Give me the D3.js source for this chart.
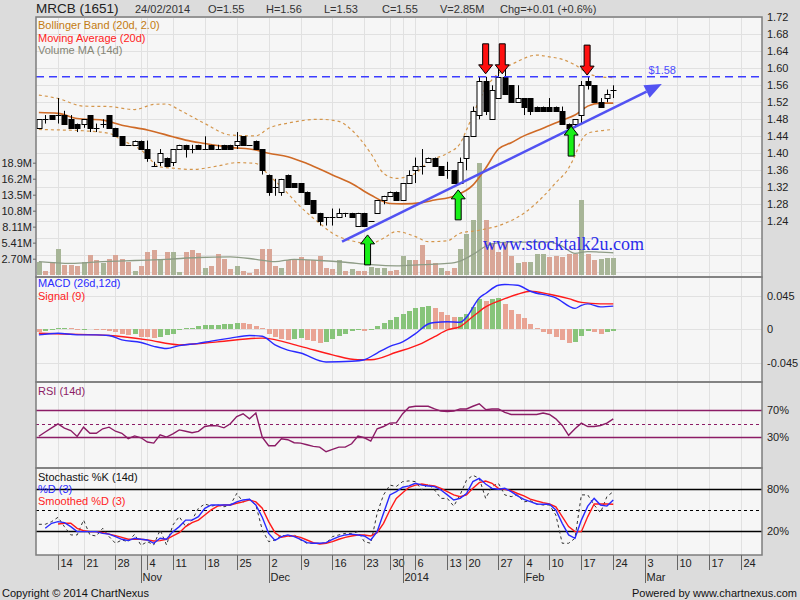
<!DOCTYPE html>
<html>
<head>
<meta charset="utf-8">
<script src="https://cdn.jsdelivr.net/npm/d3@7"></script>
<style>
body { margin: 0; background: #dcdcdc; }
</style>
</head>
<body>
<script>
//=================================================
// data (index 0 = 9 Oct 2013, 90 = 24 Feb 2014)
//=================================================
var openP = [1.46, 1.48, 1.49, 1.49, 1.49, 1.48, 1.47, 1.47, 1.49, 1.46,
    1.47, 1.49, 1.46, 1.44, 1.42, 1.42, 1.43, 1.41, 1.37, 1.38,
    1.39, 1.38, 1.41, 1.42, 1.41, 1.42, 1.41, 1.42, 1.41, 1.42,
    1.42, 1.42, 1.44, 1.42, 1.43, 1.41, 1.35, 1.32, 1.31, 1.35,
    1.33, 1.33, 1.31, 1.29, 1.26, 1.25, 1.25, 1.25, 1.26, 1.26,
    1.23, 1.26, 1.24, 1.26, 1.29, 1.30, 1.31, 1.29, 1.33, 1.36,
    1.37, 1.38, 1.39, 1.37, 1.36, 1.36, 1.33, 1.39, 1.44, 1.49,
    1.57, 1.48, 1.53, 1.58, 1.56, 1.52, 1.53, 1.53, 1.51, 1.51,
    1.51, 1.51, 1.50, 1.47, 1.47, 1.49, 1.57, 1.56, 1.52, 1.53,
    1.55];
var highP = [1.48, 1.49, 1.49, 1.53, 1.50, 1.49, 1.47, 1.48, 1.49, 1.47,
    1.48, 1.49, 1.46, 1.44, 1.42, 1.43, 1.43, 1.43, 1.38, 1.41,
    1.39, 1.41, 1.42, 1.42, 1.42, 1.42, 1.44, 1.42, 1.42, 1.42,
    1.42, 1.45, 1.44, 1.42, 1.43, 1.41, 1.35, 1.34, 1.34, 1.35,
    1.33, 1.33, 1.31, 1.29, 1.26, 1.25, 1.27, 1.27, 1.26, 1.26,
    1.26, 1.26, 1.24, 1.29, 1.30, 1.31, 1.31, 1.33, 1.36, 1.39,
    1.41, 1.39, 1.39, 1.37, 1.38, 1.36, 1.39, 1.44, 1.51, 1.58,
    1.58, 1.56, 1.60, 1.60, 1.56, 1.56, 1.53, 1.53, 1.51, 1.51,
    1.53, 1.51, 1.51, 1.47, 1.48, 1.57, 1.58, 1.56, 1.53, 1.55,
    1.56];
var lowP = [1.46, 1.47, 1.48, 1.47, 1.47, 1.46, 1.45, 1.46, 1.45, 1.45,
    1.46, 1.46, 1.44, 1.42, 1.42, 1.42, 1.41, 1.38, 1.37, 1.37,
    1.37, 1.37, 1.41, 1.39, 1.40, 1.41, 1.41, 1.41, 1.41, 1.41,
    1.41, 1.41, 1.42, 1.42, 1.41, 1.35, 1.30, 1.30, 1.30, 1.32,
    1.32, 1.31, 1.28, 1.26, 1.23, 1.23, 1.23, 1.25, 1.25, 1.25,
    1.23, 1.23, 1.24, 1.26, 1.28, 1.30, 1.29, 1.29, 1.33, 1.33,
    1.35, 1.38, 1.37, 1.35, 1.34, 1.33, 1.33, 1.36, 1.44, 1.48,
    1.49, 1.48, 1.53, 1.54, 1.52, 1.52, 1.49, 1.49, 1.50, 1.50,
    1.50, 1.50, 1.47, 1.45, 1.46, 1.47, 1.55, 1.52, 1.51, 1.52,
    1.53];
var closeP = [1.48, 1.48, 1.48, 1.49, 1.47, 1.46, 1.46, 1.48, 1.46, 1.46,
    1.47, 1.46, 1.44, 1.42, 1.42, 1.43, 1.41, 1.39, 1.37, 1.40,
    1.37, 1.41, 1.42, 1.41, 1.41, 1.41, 1.41, 1.41, 1.41, 1.41,
    1.41, 1.43, 1.42, 1.42, 1.41, 1.36, 1.31, 1.32, 1.34, 1.32,
    1.32, 1.31, 1.28, 1.26, 1.24, 1.25, 1.25, 1.26, 1.26, 1.25,
    1.26, 1.23, 1.24, 1.29, 1.30, 1.31, 1.29, 1.33, 1.35, 1.37,
    1.37, 1.39, 1.37, 1.35, 1.36, 1.33, 1.38, 1.44, 1.50, 1.57,
    1.50, 1.55, 1.58, 1.54, 1.52, 1.53, 1.51, 1.50, 1.50, 1.50,
    1.50, 1.50, 1.47, 1.46, 1.48, 1.56, 1.56, 1.52, 1.51, 1.54,
    1.55];

// volume in millions, and whether the bar is an up (u) or down (d) day
var volume = [2.1, 0.7, 2.2, 4.4, 1.7, 1.7, 1.5, 2.2, 3.4, 2.5,
    1.9, 2.7, 3.3, 2.6, 2.2, 0.7, 1.4, 3.9, 4.1, 2.6,
    3.8, 3.8, 0.4, 3.8, 4.2, 3.7, 1.1, 1.4, 3.5, 2.7,
    1.0, 1.4, 0.6, 0.3, 1.0, 4.3, 4.3, 1.5, 1.2, 2.5,
    2.5, 3.0, 2.5, 2.5, 3.1, 1.2, 1.0, 2.5, 0.6, 1.0,
    0.7, 0.6, 1.3, 1.2, 1.2, 0.6, 0.8, 3.1, 2.5, 2.5,
    5.0, 2.5, 1.9, 1.2, 0.7, 1.1, 4.4, 6.9, 9.3, 18.9,
    9.2, 5.3, 3.9, 5.3, 3.2, 2.0, 2.2, 2.2, 3.5, 3.5,
    3.0, 3.1, 3.0, 3.5, 3.5, 12.6, 3.5, 2.4, 2.6, 2.9,
    2.85];
var volDir = ["uddudddudd", "uddddudddu", "duuddduddd", "duddddddud", "dddddddudu",
    "dduuudduud", "dddudduuuu", "ddddduduuu", "dddddudduu", "u"].join("").split("");

// indicator lines, sampled at candle indices
var maIdx = [0, 3, 6, 10, 13, 17, 21, 23, 26, 30, 34, 36, 39, 42, 46, 49, 52, 55, 57, 60, 62, 65, 68, 70, 72, 74, 76, 79, 82, 84, 86, 88, 90];
var maVal = [1.496, 1.494, 1.482, 1.478, 1.466, 1.455, 1.439, 1.431, 1.423, 1.414, 1.408, 1.400, 1.392, 1.376, 1.349, 1.329, 1.302, 1.282, 1.281, 1.284, 1.290, 1.299, 1.325, 1.365, 1.410, 1.425, 1.441, 1.459, 1.478, 1.490, 1.511, 1.518, 1.518];
var bbUIdx = [0, 3, 7, 11, 15, 18, 20, 22, 26, 30, 34, 36, 39, 44, 47, 49, 52, 54, 56, 59, 61, 64, 66, 67, 68, 69, 70, 72, 75, 78, 80, 82, 84, 86, 88, 90];
var bbUVal = [1.537, 1.529, 1.511, 1.510, 1.503, 1.515, 1.516, 1.502, 1.470, 1.443, 1.441, 1.459, 1.471, 1.480, 1.475, 1.455, 1.400, 1.353, 1.341, 1.353, 1.380, 1.400, 1.423, 1.455, 1.490, 1.525, 1.553, 1.588, 1.616, 1.631, 1.627, 1.621, 1.608, 1.588, 1.580, 1.578];
var bbLIdx = [0, 3, 7, 11, 13, 16, 19, 21, 24, 28, 31, 34, 36, 38, 41, 44, 46, 49, 52, 54, 56, 59, 61, 64, 66, 69, 73, 76, 79, 81, 83, 84, 85, 86, 88, 90];
var bbLVal = [1.456, 1.455, 1.453, 1.447, 1.431, 1.408, 1.368, 1.365, 1.362, 1.370, 1.378, 1.376, 1.349, 1.321, 1.274, 1.235, 1.212, 1.194, 1.188, 1.200, 1.216, 1.204, 1.192, 1.194, 1.212, 1.219, 1.235, 1.259, 1.298, 1.331, 1.365, 1.395, 1.430, 1.447, 1.453, 1.456];
var vmaIdx = [0, 5, 10, 15, 20, 25, 30, 34, 37, 40, 44, 48, 52, 56, 60, 64, 66, 68, 70, 72, 74, 76, 78, 80, 82, 84, 86, 88, 90];
var vmaVal = [2.2, 1.9, 2.2, 2.4, 2.6, 2.9, 3.0, 2.6, 2.2, 2.6, 2.4, 2.1, 1.7, 1.5, 1.7, 1.9, 2.3, 3.4, 4.8, 5.4, 5.5, 5.5, 5.5, 5.5, 4.8, 3.6, 3.9, 3.8, 3.7];

var macdIdx = [0, 3, 6, 9, 11, 13, 16, 18, 20, 22, 25, 27, 30, 33, 35, 37, 39, 41, 45, 49, 51, 53, 55, 57, 59, 61, 62, 64, 66, 67, 69, 70, 72, 73, 75, 77, 81, 84, 85, 86, 88, 90];
var macdVal = [-0.0076, -0.0054, -0.0076, -0.0076, -0.0085, -0.0143, -0.0179, -0.023, -0.026, -0.022, -0.019, -0.016, -0.012, -0.0085, -0.0095, -0.021, -0.028, -0.032, -0.044, -0.043, -0.041, -0.032, -0.023, -0.017, -0.006, 0.007, 0.009, 0.010, 0.0094, 0.016, 0.042, 0.048, 0.059, 0.060, 0.059, 0.051, 0.042, 0.028, 0.032, 0.034, 0.030, 0.031];
var sigIdx = [0, 4, 11, 17, 22, 28, 35, 41, 46, 50, 52, 56, 60, 62, 64, 66, 68, 70, 73, 75, 77, 80, 83, 85, 88, 90];
var sigVal = [-0.0054, -0.0065, -0.0085, -0.0143, -0.021, -0.017, -0.012, -0.023, -0.0345, -0.041, -0.041, -0.031, -0.019, -0.010, -0.001, 0.0036, 0.017, 0.030, 0.041, 0.047, 0.051, 0.047, 0.041, 0.036, 0.034, 0.034];
var macdHist = [-0.004, -0.002, -0.001, 0.001, 0.002, 0.001, -0.001, -0.0005, 0.0, -0.001,
    -0.0015, -0.002, -0.004, -0.007, -0.008, -0.007, -0.010, -0.011, -0.012, -0.010,
    -0.008, -0.006, -0.001, 0.001, 0.002, 0.004, 0.005, 0.006, 0.0062, 0.0065,
    0.007, 0.0085, 0.008, 0.007, 0.004, 0.001, -0.006, -0.011, -0.013, -0.014,
    -0.013, -0.012, -0.014, -0.016, -0.018, -0.017, -0.013, -0.009, -0.006, -0.003,
    -0.001, -0.002, -0.001, 0.004, 0.008, 0.012, 0.016, 0.020, 0.025, 0.029,
    0.030, 0.031, 0.028, 0.023, 0.019, 0.016, 0.0165, 0.020, 0.030, 0.040,
    0.038, 0.041, 0.042, 0.034, 0.026, 0.020, 0.015, 0.007, 0.001, -0.004,
    -0.007, -0.010, -0.014, -0.018, -0.0175, -0.009, -0.003, -0.004, -0.007, -0.004,
    -0.003];

var rsi = [31.5, 37.8, 44, 50, 43.6, 40, 31.3, 45, 36, 36,
    42.6, 45, 39, 36, 28, 32, 29.3, 23, 21.4, 33.7,
    30.3, 35, 41, 39, 36.7, 38.7, 46, 47.5, 47, 44,
    50, 60.8, 64.8, 57.4, 66, 30.3, 17.5, 17.5, 27.8, 26.4,
    22, 21.4, 19, 16.5, 15.5, 8.6, 12, 15.5, 15.5, 20.4,
    31.8, 29.3, 24.4, 42.6, 46, 51, 51.5, 65, 74.6, 76,
    76, 76, 72, 68.7, 68, 68.7, 72, 72, 76, 79.6,
    71, 72, 72, 67, 63.8, 63.8, 63.8, 63.8, 63.8, 66,
    63.8, 57.4, 47.5, 33, 42.6, 51, 46, 46, 47.5, 51,
    57.4];

var stochK = [30, 30, 33.8, 40, 26.7, 14.8, 14.8, 36, 14.8, 13.3,
    24.3, 12.4, 2.9, 7.6, 5.2, 15.7, 0, 5.2, 0.5, 22,
    0.5, 29, 41, 26.7, 36, 52.9, 59, 56, 57.6, 55,
    57.6, 74, 62, 65.7, 57.6, 22, 5.2, 7.6, 14.8, 12.4,
    14.8, 7.6, 2.9, 2.9, 2.9, 2.9, 12.4, 14.8, 17, 17,
    19.5, 5.2, 2.9, 45.7, 72, 86, 84, 91, 92, 91,
    79, 87.6, 79, 67, 67, 56, 72, 93, 100, 95.7,
    67, 84, 88.6, 72, 69.5, 72, 62, 63.8, 59, 57.6,
    57.6, 43.3, 2.9, 2.9, 10, 72, 72, 57.6, 46.7, 69.5,
    76.7];
var stochD = [null, 24.3, 31.4, 33.8, 32.4, 26.7, 19.5, 19.5, 19.5, 19.5,
    17, 16, 12.4, 8.6, 6.7, 10, 8.6, 7.6, 2.9, 10,
    8.6, 19.5, 26.7, 36, 36, 41, 52.9, 57.6, 57.6, 57.6,
    57.6, 62, 64.8, 65.7, 57.6, 40, 17, 7, 12.4, 14.8,
    12.4, 8.6, 3.8, 2.9, 2.9, 3.8, 8.6, 12.4, 14.8, 16,
    14.8, 13.3, 7.6, 19.5, 45.7, 72, 76.7, 82.9, 84.8, 88.6,
    86, 84.8, 83.8, 79, 72, 64.8, 67, 74, 91, 95.7,
    87.6, 81.4, 80, 81.4, 76.7, 70.5, 65.7, 62.4, 59, 58.6,
    58.6, 50.5, 31.4, 14.8, 10, 36, 56, 67, 57.6, 56,
    64.8];
var stochSD = [null, null, null, 30.5, 31.4, 31.4, 24.3, 21, 19.5, 19.5,
    18, 16, 13.8, 11.4, 8.6, 8.6, 8.6, 7.6, 6.2, 6.7,
    8.6, 13.3, 18, 26.7, 32.4, 36, 43.3, 50.5, 56, 57.6,
    57.6, 60, 62, 64.8, 62, 52.9, 33.8, 18, 11.4, 13.3,
    13.3, 11.4, 7.6, 3.8, 1.9, 2.9, 5.2, 8.6, 11.4, 13.3,
    14.8, 14.8, 13.3, 18, 31.4, 50.5, 67, 75, 82.9, 86,
    87.6, 86, 84.8, 81.4, 76.7, 72, 69.5, 72, 81.4, 89.5,
    91.9, 88.6, 81.4, 80, 78, 74, 70.5, 66, 63.3, 61,
    59, 55, 41, 26.7, 19.5, 19.5, 41, 59, 59, 59,
    58.6];

// axis ticks (trading-day index) and labels
var weekIdx = [3, 7, 12, 17, 21, 26, 31, 36, 41, 46, 51, 55, 59, 64, 67, 72, 76, 80, 85, 90, 95, 100, 105, 110];
var weekLbl = ["14", "21", "28", "4", "11", "18", "25", "2", "9", "16", "23", "30", "6", "13", "20", "27", "4", "10", "17", "24", "3", "10", "17", "24"];
var monthIdx = [16, 36, 57, 76, 95];
var monthLbl = ["Nov", "Dec", "2014", "Feb", "Mar"];
var priceTicks = [1.24, 1.28, 1.32, 1.36, 1.40, 1.44, 1.48, 1.52, 1.56, 1.60, 1.64, 1.68, 1.72];
var volTicks = [2.70, 5.41, 8.11, 10.8, 13.5, 16.2, 18.9];
var volLbl = ["2.70M", "5.41M", "8.11M", "10.8M", "13.5M", "16.2M", "18.9M"];
var macdTicks = [-0.045, 0, 0.045];
var macdLbl = ["-0.045", "0", "0.045"];

// hand-drawn notes on the chart: [index, price]
var resistance = 1.58;
var trendFrom = [47.5, 1.192], trendTo = [97.6, 1.563];
var redArrows = [[70.0, 1.587], [72.6, 1.587], [85.9, 1.584]];
var greenArrows = [[51.5, 1.208], [65.7, 1.314], [83.4, 1.464]];
var watermarkAt = [69.6, 1.1725];

//=================================================
// layout
//=================================================
var W = 800, H = 600, L = 36, R = 762;
var panels = [[17, 277], [277, 382], [382, 468], [468, 555]];
var SANS = "'Liberation Sans', Arial, sans-serif";

var svg = d3.select("body").append("svg")
    .attr("width", W)
    .attr("height", H)
    .style("font-family", SANS);

svg.append("rect").attr("width", W).attr("height", H).attr("fill", "#dcdcdc");

var x = d3.scaleLinear().domain([-0.45, 113.3]).range([L, R]);
var yP = d3.scaleLinear().domain([1.24, 1.72]).range([221.3, 17.3]);
var yV = d3.scaleLinear().domain([0, 18.9]).range([274.7, 162.7]);
var yM = d3.scaleLinear().domain([-0.045, 0.045]).range([362.7, 295.7]);
var yR = d3.scaleLinear().domain([30, 70]).range([437.3, 410.3]);
var yS = d3.scaleLinear().domain([20, 80]).range([531.3, 489.3]);

var defs = svg.append("defs");
defs.append("clipPath").attr("id", "clipMain")
    .append("rect").attr("x", L).attr("y", panels[0][0]).attr("width", R - L).attr("height", panels[0][1] - panels[0][0]);

// panel backgrounds
svg.selectAll(".panelBg").data(panels).enter().append("rect")
    .attr("class", "panelBg")
    .attr("x", L).attr("y", function (d) { return d[0]; })
    .attr("width", R - L).attr("height", function (d) { return d[1] - d[0]; })
    .attr("fill", "#f6f6f6");

//=================================================
// grid
//=================================================
var grid = svg.append("g").attr("stroke", "#e1e1e1").attr("stroke-width", 1).attr("shape-rendering", "crispEdges");
var vIdx = weekIdx.concat(monthIdx);
panels.forEach(function (p) {
    grid.selectAll(null).data(vIdx).enter().append("line")
        .attr("x1", function (d) { return Math.round(x(d)) + 0.5; })
        .attr("x2", function (d) { return Math.round(x(d)) + 0.5; })
        .attr("y1", p[0]).attr("y2", p[1]);
});
grid.selectAll(null).data(d3.range(1.12, 1.73, 0.04)).enter().append("line")
    .attr("x1", L).attr("x2", R)
    .attr("y1", function (d) { return Math.round(yP(d)) + 0.5; })
    .attr("y2", function (d) { return Math.round(yP(d)) + 0.5; });
grid.selectAll(null).data(macdTicks).enter().append("line")
    .attr("x1", L).attr("x2", R)
    .attr("y1", function (d) { return Math.round(yM(d)) + 0.5; })
    .attr("y2", function (d) { return Math.round(yM(d)) + 0.5; });

//=================================================
// main panel: volume, bands, average, candles
//=================================================
var main = svg.append("g").attr("clip-path", "url(#clipMain)");
var cx = function (i) { return Math.round(x(i)); };

main.append("g").attr("shape-rendering", "crispEdges")
    .selectAll("rect").data(volume).enter().append("rect")
    .attr("x", function (d, i) { return cx(i) - 2; })
    .attr("width", 5)
    .attr("y", function (d) { return yV(d); })
    .attr("height", function (d) { return yV(0) - yV(d); })
    .attr("fill", function (d, i) { return volDir[i] == "u" ? "#a7b597" : "#d9a697"; });

var pairs = function (idx, val) { return idx.map(function (d, i) { return [d, val[i]]; }); };

main.append("path")
    .datum(pairs(vmaIdx, vmaVal))
    .attr("fill", "none").attr("stroke", "#8e9c86").attr("stroke-width", 1.3)
    .attr("d", d3.line().x(function (d) { return x(d[0]); }).y(function (d) { return yV(d[1]); }).curve(d3.curveMonotoneX));

var priceLine = d3.line().x(function (d) { return x(d[0]); }).y(function (d) { return yP(d[1]); }).curve(d3.curveMonotoneX);
[pairs(bbUIdx, bbUVal), pairs(bbLIdx, bbLVal)].forEach(function (band) {
    main.append("path").datum(band)
        .attr("fill", "none").attr("stroke", "#d4964c").attr("stroke-width", 1.2)
        .attr("stroke-dasharray", "3,3")
        .attr("d", priceLine);
});
main.append("path").datum(pairs(maIdx, maVal))
    .attr("fill", "none").attr("stroke", "#cf6a26").attr("stroke-width", 1.6)
    .attr("d", priceLine);

var candles = main.append("g").selectAll("g").data(openP).enter().append("g");
candles.append("line")
    .attr("x1", function (d, i) { return cx(i) + 0.5; })
    .attr("x2", function (d, i) { return cx(i) + 0.5; })
    .attr("y1", function (d, i) { return yP(highP[i]); })
    .attr("y2", function (d, i) { return yP(lowP[i]); })
    .attr("stroke", "#000").attr("stroke-width", 1);
candles.each(function (d, i) {
    var o = openP[i], c = closeP[i];
    var g = d3.select(this);
    if (o == c) {
        g.append("line")
            .attr("x1", cx(i) - 2.5).attr("x2", cx(i) + 3.5)
            .attr("y1", Math.round(yP(c)) + 0.5).attr("y2", Math.round(yP(c)) + 0.5)
            .attr("stroke", "#000");
    } else {
        var top = Math.round(yP(Math.max(o, c))), bot = Math.round(yP(Math.min(o, c)));
        g.append("rect")
            .attr("x", cx(i) - 2).attr("y", top + 0.5)
            .attr("width", 5).attr("height", bot - top)
            .attr("fill", c > o ? "#fff" : "#000")
            .attr("stroke", "#000").attr("stroke-width", 1);
    }
});

//=================================================
// MACD
//=================================================
svg.append("g").attr("shape-rendering", "crispEdges")
    .selectAll("rect").data(macdHist).enter().append("rect")
    .attr("x", function (d, i) { return cx(i) - 2; })
    .attr("width", 5)
    .attr("y", function (d) { return Math.min(yM(d), yM(0)); })
    .attr("height", function (d) { return Math.abs(yM(d) - yM(0)); })
    .attr("fill", function (d, i) { return i > 0 && d > macdHist[i - 1] ? "#87c47a" : "#e9a494"; });

var macdLine = d3.line().x(function (d) { return x(d[0]); }).y(function (d) { return yM(d[1]); }).curve(d3.curveMonotoneX);
svg.append("path").datum(pairs(sigIdx, sigVal))
    .attr("fill", "none").attr("stroke", "#ff1a1a").attr("stroke-width", 1.4).attr("d", macdLine);
svg.append("path").datum(pairs(macdIdx, macdVal))
    .attr("fill", "none").attr("stroke", "#2a2aff").attr("stroke-width", 1.4).attr("d", macdLine);

//=================================================
// RSI
//=================================================
var rsiColor = "#8c1c66";
[30, 50, 70].forEach(function (v) {
    svg.append("line")
        .attr("x1", L).attr("x2", R)
        .attr("y1", Math.round(yR(v)) + 0.5).attr("y2", Math.round(yR(v)) + 0.5)
        .attr("stroke", rsiColor).attr("stroke-width", v == 50 ? 1 : 1.4)
        .attr("stroke-dasharray", v == 50 ? "3,3" : null);
});
svg.append("path").datum(rsi)
    .attr("fill", "none").attr("stroke", rsiColor).attr("stroke-width", 1.4)
    .attr("d", d3.line().x(function (d, i) { return x(i); }).y(function (d) { return yR(d); }));

//=================================================
// Stochastic
//=================================================
[20, 50, 80].forEach(function (v) {
    svg.append("line")
        .attr("x1", L).attr("x2", R)
        .attr("y1", Math.round(yS(v)) + 0.5).attr("y2", Math.round(yS(v)) + 0.5)
        .attr("stroke", "#000").attr("stroke-width", v == 50 ? 1 : 1.3)
        .attr("stroke-dasharray", v == 50 ? "3,3" : null);
});
var stoLine = d3.line()
    .defined(function (d) { return d != null; })
    .x(function (d, i) { return x(i); })
    .y(function (d) { return yS(d); });
svg.append("path").datum(stochK)
    .attr("fill", "none").attr("stroke", "#333").attr("stroke-width", 1).attr("stroke-dasharray", "3,3").attr("d", stoLine);
svg.append("path").datum(stochSD)
    .attr("fill", "none").attr("stroke", "#ff1a1a").attr("stroke-width", 1.4).attr("d", stoLine);
svg.append("path").datum(stochD)
    .attr("fill", "none").attr("stroke", "#2a2aff").attr("stroke-width", 1.4).attr("d", stoLine);

//=================================================
// annotations on the price panel
//=================================================
var notes = svg.append("g").attr("clip-path", "url(#clipMain)");
notes.append("line")
    .attr("x1", L).attr("x2", R)
    .attr("y1", yP(resistance)).attr("y2", yP(resistance))
    .attr("stroke", "#3c3cff").attr("stroke-width", 1.6).attr("stroke-dasharray", "8,5");
notes.append("text")
    .attr("x", x(95.5)).attr("y", yP(resistance) - 2.5)
    .attr("font-size", "11px").attr("fill", "#4b4bff")
    .text("$" + resistance.toFixed(2));

var tx1 = x(trendFrom[0]), ty1 = yP(trendFrom[1]), tx2 = x(trendTo[0]), ty2 = yP(trendTo[1]);
var ang = Math.atan2(ty2 - ty1, tx2 - tx1), hl = 17, hw = 7;
var bx = tx2 - hl * Math.cos(ang), by = ty2 - hl * Math.sin(ang);
notes.append("line")
    .attr("x1", tx1).attr("y1", ty1).attr("x2", bx).attr("y2", by)
    .attr("stroke", "#5252f2").attr("stroke-width", 2.6);
notes.append("path")
    .attr("d", "M" + tx2 + "," + ty2 +
        "L" + (bx + hw * Math.sin(ang)) + "," + (by - hw * Math.cos(ang)) +
        "L" + (bx - hw * Math.sin(ang)) + "," + (by + hw * Math.cos(ang)) + "Z")
    .attr("fill", "#5252f2");

// block arrows: dir 1 points down, -1 points up
var blockArrow = function (d, dir) {
    var px = x(d[0]), py = yP(d[1]);
    var pts = [[-3, -30], [3, -30], [3, -9], [7, -9], [0, 0], [-7, -9], [-3, -9]];
    return "M" + pts.map(function (p) { return (px + p[0]) + "," + (py + dir * p[1]); }).join("L") + "Z";
};
notes.selectAll(".red").data(redArrows).enter().append("path")
    .attr("d", function (d) { return blockArrow(d, 1); })
    .attr("fill", "#ff1010").attr("stroke", "#000").attr("stroke-width", 1);
notes.selectAll(".green").data(greenArrows).enter().append("path")
    .attr("d", function (d) { return blockArrow(d, -1); })
    .attr("fill", "#18f018").attr("stroke", "#000").attr("stroke-width", 1);

notes.append("text")
    .attr("x", x(watermarkAt[0])).attr("y", yP(watermarkAt[1]))
    .style("font-family", "'Liberation Serif', 'Times New Roman', serif")
    .attr("font-size", "18px").attr("fill", "#2b2bea")
    .text("www.stocktalk2u.com");

//=================================================
// panel borders
//=================================================
svg.selectAll(".panelBorder").data(panels).enter().append("rect")
    .attr("x", L).attr("y", function (d) { return d[0]; })
    .attr("width", R - L).attr("height", function (d) { return d[1] - d[0]; })
    .attr("fill", "none").attr("stroke", "#7c7c7c").attr("stroke-width", 1.5);

//=================================================
// axes
//=================================================
var styleAxis = function (g) {
    g.select(".domain").remove();
    g.attr("font-family", SANS).attr("font-size", 11);
    g.selectAll("text").attr("fill", "#222");
    g.selectAll("line").attr("stroke", "#666");
};

svg.append("g").attr("transform", "translate(" + R + ",0)")
    .call(d3.axisRight(yP).tickValues(priceTicks).tickFormat(d3.format(".2f")).tickSize(0).tickPadding(5))
    .call(styleAxis);
svg.append("g").attr("transform", "translate(" + R + ",0)")
    .call(d3.axisRight(yM).tickValues(macdTicks).tickFormat(function (d, i) { return macdLbl[i]; }).tickSize(0).tickPadding(5))
    .call(styleAxis);
svg.append("g").attr("transform", "translate(" + R + ",0)")
    .call(d3.axisRight(yR).tickValues([30, 70]).tickFormat(function (d) { return d + "%"; }).tickSize(0).tickPadding(5))
    .call(styleAxis);
svg.append("g").attr("transform", "translate(" + R + ",0)")
    .call(d3.axisRight(yS).tickValues([20, 80]).tickFormat(function (d) { return d + "%"; }).tickSize(0).tickPadding(5))
    .call(styleAxis);
svg.append("g").attr("transform", "translate(" + L + ",0)")
    .call(d3.axisLeft(yV).tickValues(volTicks).tickFormat(function (d, i) { return volLbl[i]; }).tickSize(3).tickPadding(1))
    .call(styleAxis);

var xb = panels[3][1];
svg.append("g").attr("transform", "translate(0," + xb + ")")
    .call(d3.axisBottom(x).tickValues(weekIdx).tickFormat(function (d, i) { return weekLbl[i]; }).tickSize(15))
    .call(styleAxis)
    .call(function (g) {
        g.selectAll(".tick").attr("transform", function (d) { return "translate(" + (Math.round(x(d)) + 0.5) + ",0)"; });
        g.selectAll("text").attr("x", 2).attr("y", 4).attr("text-anchor", "start");
    });
svg.append("g").attr("transform", "translate(0," + xb + ")")
    .call(d3.axisBottom(x).tickValues(monthIdx).tickFormat(function (d, i) { return monthLbl[i]; }).tickSize(28))
    .call(styleAxis)
    .call(function (g) {
        g.selectAll(".tick").attr("transform", function (d) { return "translate(" + (Math.round(x(d)) + 0.5) + ",0)"; });
        g.selectAll("text").attr("x", 1).attr("y", 18).attr("text-anchor", "start");
    });

//=================================================
// titles and legends
//=================================================
var head = svg.append("g").attr("fill", "#222");
head.append("text").attr("x", L).attr("y", 13).attr("font-size", "13.5px").text("MRCB (1651)");
var headItems = [["24/02/2014", 135], ["O=1.55", 208], ["H=1.56", 266], ["L=1.53", 324], ["C=1.55", 382], ["V=2.85M", 440], ["Chg=+0.01 (+0.6%)", 500]];
head.selectAll(null).data(headItems).enter().append("text")
    .attr("x", function (d) { return d[1]; }).attr("y", 12.5)
    .attr("font-size", "11px").attr("fill", "#333")
    .text(function (d) { return d[0]; });

var legend = function (items) {
    svg.append("g").selectAll("text").data(items).enter().append("text")
        .attr("x", 38).attr("y", function (d) { return d[2]; })
        .attr("font-size", "11px").attr("fill", function (d) { return d[1]; })
        .text(function (d) { return d[0]; });
};
legend([["Bollinger Band (20d, 2.0)", "#c47b10", 29], ["Moving Average (20d)", "#ff2222", 41.5], ["Volume MA (14d)", "#858575", 54]]);
legend([["MACD (26d,12d)", "#2a2aff", 287], ["Signal (9)", "#ff2222", 299.5]]);
legend([["RSI (14d)", rsiColor, 395]]);
legend([["Stochastic %K (14d)", "#111", 480.5], ["%D (3)", "#2a2aff", 492.5], ["Smoothed %D (3)", "#ff2222", 504.5]]);

svg.append("text").attr("x", 2).attr("y", 597).attr("font-size", "11px").attr("fill", "#111")
    .text("Copyright \u00a9 2014 ChartNexus");
svg.append("text").attr("x", 797).attr("y", 597).attr("text-anchor", "end").attr("font-size", "11px").attr("fill", "#111")
    .text("Powered by www.chartnexus.com");
</script>
</body>
</html>
